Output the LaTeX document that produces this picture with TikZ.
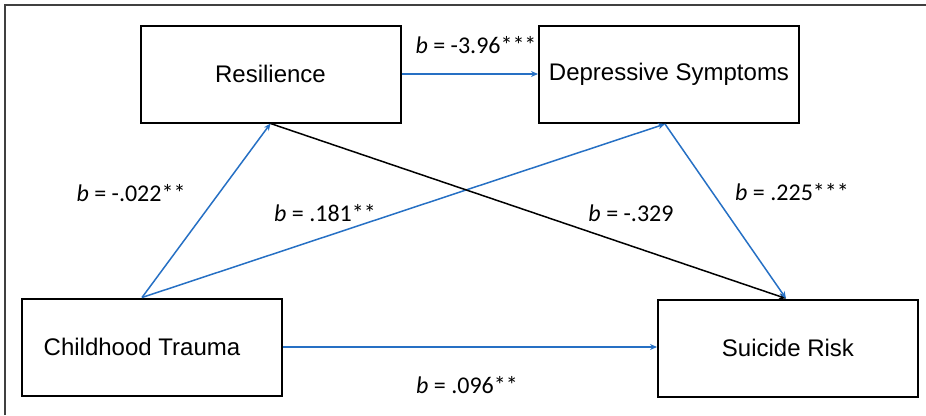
\documentclass[tikz,border=0pt]{standalone}
\usepackage{fontspec}
\setmainfont{Liberation Sans}
\newfontfamily\lblfont{Carlito}
\usetikzlibrary{arrows.meta}
\definecolor{pathblue}{RGB}{38,112,196}
\begin{document}
\begin{tikzpicture}[x=1pt,y=-1pt]
		\tikzset{
			box/.style={draw,line width=2pt,minimum width=260pt,minimum height=97pt,inner sep=0pt,font=\fontsize{24}{28}\selectfont},
			lbl/.style={inner sep=0pt,font=\lblfont\fontsize{24}{28}\selectfont},
			bl/.style={draw=pathblue,line width=1.5pt,-{Stealth[length=7pt,width=6pt]}},
			bk/.style={draw=black,line width=1.5pt,-{Stealth[length=7pt,width=6pt]}},
		}
		\useasboundingbox (0,0) rectangle (926,415);
		\draw[line width=1.8pt,black!75] (5,415) -- (5,5) -- (926,5);
		\node[box] (res) at (270.5,74) {Resilience};
		\node[box] (dep) at (669,74.5) {Depressive Symptoms};
		\node[box] (ct) at (152,347) {\hspace*{-20pt}\raisebox{-3pt}{Childhood Trauma}};
		\node[box] (sr) at (788,348) {Suicide Risk};
		\draw[bl] (res.east) -- (res.east -| dep.west);
		\draw[bl] ([xshift=-10pt]ct.north) -- (res.south);
		\draw[bl] ([xshift=-10pt]ct.north) -- ([xshift=-4pt]dep.south);
		\draw[bk] (res.south) -- ([xshift=-2pt]sr.north);
		\draw[bl] ([xshift=-4pt]dep.south) -- ([xshift=-2pt]sr.north);
		\draw[bl] (ct.east) -- (ct.east -| sr.west);
		\node[lbl] (l1) at (476,45) {{\itshape b} = -3.96***};
		\node[lbl] (l2) at (131,193) {{\itshape b} = -.022**};
		\node[lbl] (l3) at (325,213) {{\itshape b} = .181**};
		\node[lbl] (l4) at (631,213) {{\itshape b} = -.329};
		\node[lbl] (l5) at (792,192) {{\itshape b} = .225***};
		\node[lbl] (l6) at (467,385) {{\itshape b} = .096**};
	\end{tikzpicture}
\end{document}
